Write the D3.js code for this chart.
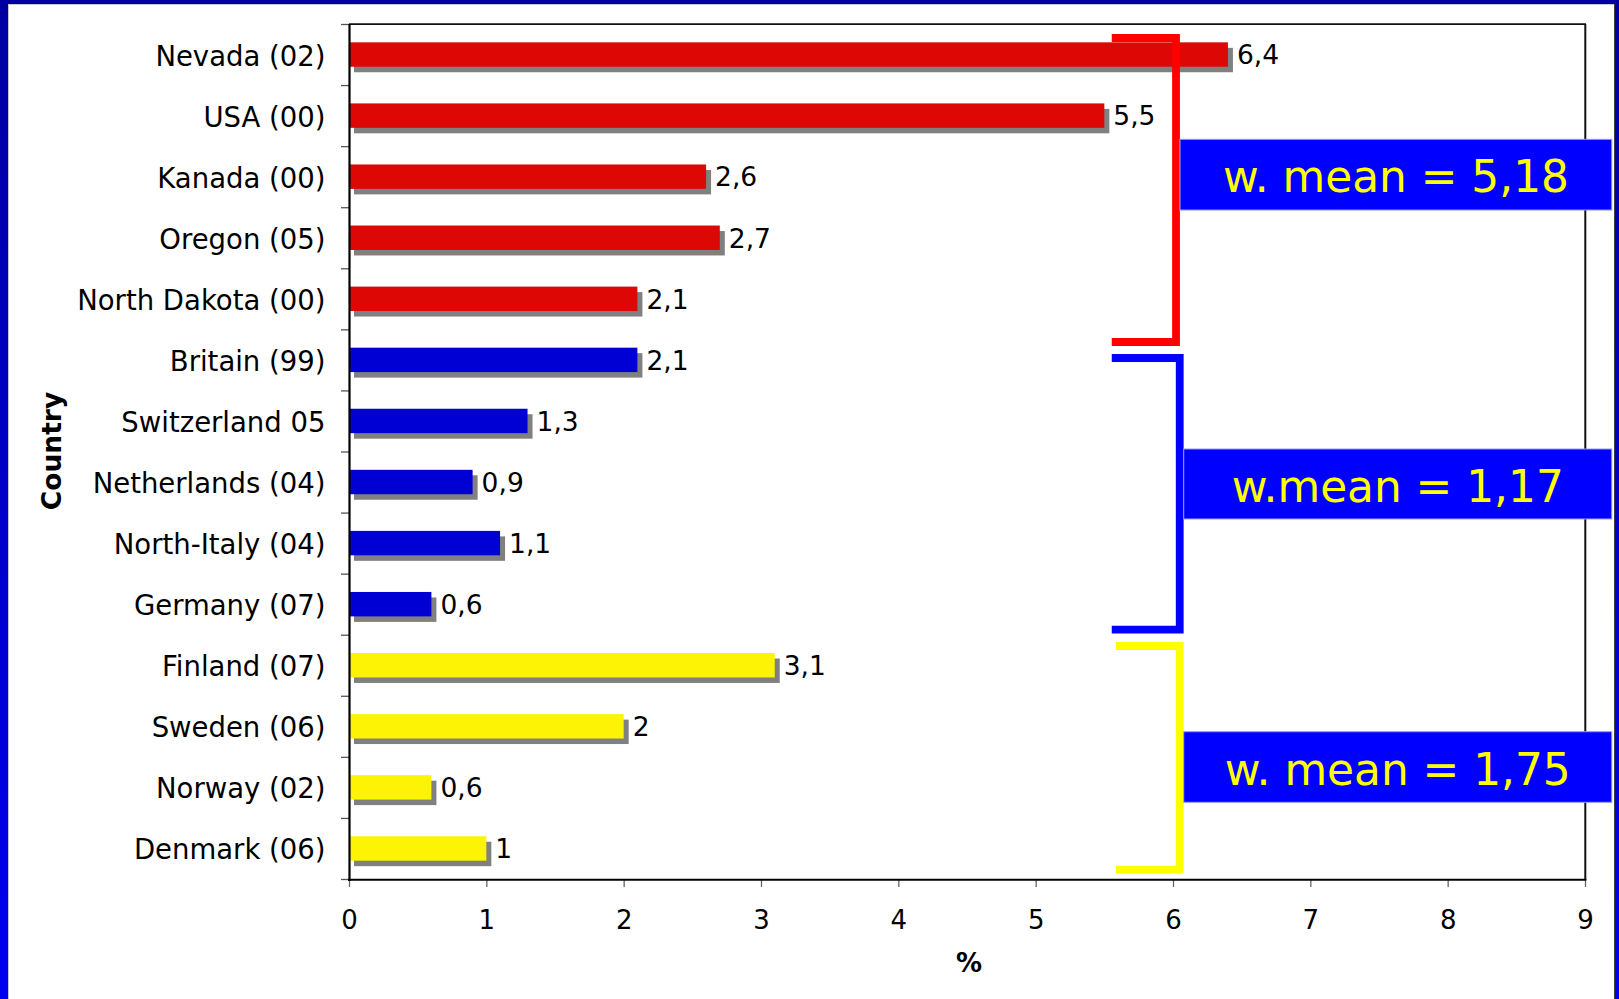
<!DOCTYPE html>
<html><head><meta charset="utf-8">
<script src="https://cdn.jsdelivr.net/npm/d3@7"></script>
<style>html,body{margin:0;padding:0;background:#fff;} svg{display:block;}</style>
</head><body>
<svg id="chart" width="1619" height="999"></svg>
<script>
// ---------- data ----------
const categories = ["Nevada (02)", "USA (00)", "Kanada (00)", "Oregon (05)", "North Dakota (00)",
  "Britain (99)", "Switzerland 05", "Netherlands (04)", "North-Italy (04)", "Germany (07)",
  "Finland (07)", "Sweden (06)", "Norway (02)", "Denmark (06)"];
const values = [6.4, 5.5, 2.6, 2.7, 2.1, 2.1, 1.3, 0.9, 1.1, 0.6, 3.1, 2, 0.6, 1];
const groupOf = [0, 0, 0, 0, 0, 1, 1, 1, 1, 1, 2, 2, 2, 2];
const meanLabels = ["w. mean = 5,18", "w.mean = 1,17", "w. mean = 1,75"];
const xTickValues = [0, 1, 2, 3, 4, 5, 6, 7, 8, 9];
const xTitle = "%";
const yTitle = "Country";

// ---------- styles / layout ----------
const barColors = ["#DD0806", "#0000D4", "#FCF305"];
const bracketColors = ["#FF0000", "#0000FF", "#FFFF00"];
const FONT = "'DejaVu Sans', Verdana, sans-serif";
// bracket geometry in data units (x: value, y: band index)
const bracketLayout = [
  {x0: 5.554, xv: 6.022, y0: 0.229, y1: 5.207},
  {x0: 5.554, xv: 6.049, y0: 5.469, y1: 9.918},
  {x0: 5.585, xv: 6.049, y0: 10.185, y1: 13.848}
];
const boxLayout = [
  {y0: 1.888, y1: 3.046},
  {y0: 6.959, y1: 8.105},
  {y0: 11.588, y1: 12.744}
];
const boxRightValue = 9.195;
const boxTextLen = [346, 332, 346];

const W = 1619, H = 999;
const svg = d3.select("#chart");

// ---------- frame ----------
const defs = svg.append("defs");
const g = defs.append("linearGradient").attr("id", "bg").attr("x1", 0).attr("y1", 0).attr("x2", 0).attr("y2", 1);
g.append("stop").attr("offset", "0%").attr("stop-color", "#0000A0");
g.append("stop").attr("offset", "100%").attr("stop-color", "#0000F0");
svg.append("rect").attr("x", 0).attr("y", 0).attr("width", W).attr("height", H).attr("fill", "url(#bg)");
svg.append("rect").attr("x", 8).attr("y", 4).attr("width", 1606).attr("height", H).attr("fill", "#fff");
svg.append("line").attr("x1", 8.5).attr("x2", 8.5).attr("y1", 4).attr("y2", H).attr("stroke", "#c8c8c8");
svg.append("line").attr("x1", 8).attr("x2", 1614).attr("y1", 4.5).attr("y2", 4.5).attr("stroke", "#c8c8c8");
svg.append("line").attr("x1", 1614.5).attr("x2", 1614.5).attr("y1", 4).attr("y2", H).attr("stroke", "#404040");

// ---------- scales ----------
const x = d3.scaleLinear().domain([0, 9]).range([349, 1585]);
const y = d3.scaleBand().domain(categories).range([24, 879]).paddingInner(0.6).paddingOuter(0.3);
const yi = d3.scaleLinear().domain([0, categories.length]).range([24, 879]);
const bw = y.bandwidth();

// plot border (top/right)
svg.append("line").attr("x1", x(0)).attr("x2", x(9) + 1).attr("y1", 24.2).attr("y2", 24.2)
  .attr("stroke", "#111").attr("stroke-width", 1.8);
svg.append("line").attr("x1", x(9) + 0.3).attr("x2", x(9) + 0.3).attr("y1", 24).attr("y2", 880)
  .attr("stroke", "#111").attr("stroke-width", 2);

// x axis
const xAxis = svg.append("g").attr("transform", "translate(0,879)")
  .call(d3.axisBottom(x).tickValues(xTickValues).tickSize(8).tickFormat(d => String(d)));
xAxis.select(".domain").remove();
xAxis.selectAll(".tick line").attr("stroke", "#666").attr("stroke-width", 1.3);
xAxis.selectAll(".tick text").attr("y", 50).attr("dy", null)
  .attr("font-family", FONT).attr("font-size", 26).attr("fill", "#000");

// y axis boundary ticks
const yTicks = svg.append("g").attr("transform", "translate(349,0)")
  .call(d3.axisLeft(yi).tickValues(d3.range(categories.length + 1)).tickSize(8).tickFormat(""));
yTicks.select(".domain").remove();
yTicks.selectAll(".tick line").attr("stroke", "#555").attr("stroke-width", 1.3);

// y labels
const yAxis = svg.append("g").attr("transform", "translate(349,0)")
  .call(d3.axisLeft(y).tickSize(0).tickPadding(23.5));
yAxis.select(".domain").remove();
yAxis.selectAll(".tick text").attr("dy", "0.4em")
  .attr("font-family", FONT).attr("font-size", 27.5).attr("fill", "#000");

// bars
const data = categories.map((c, i) => ({c, v: values[i], g: groupOf[i]}));
svg.append("g").selectAll("rect").data(data).join("rect")
  .attr("x", x(0) + 5).attr("y", d => y(d.c) + 5.5)
  .attr("width", d => x(d.v) - x(0)).attr("height", bw).attr("fill", "#808080");
svg.append("g").selectAll("rect").data(data).join("rect")
  .attr("x", x(0)).attr("y", d => y(d.c))
  .attr("width", d => x(d.v) - x(0)).attr("height", bw).attr("fill", d => barColors[d.g]);

// value labels
svg.append("g").selectAll("text").data(data).join("text")
  .attr("x", d => x(d.v) + 9).attr("y", d => y(d.c) + bw / 2).attr("dy", "0.37em")
  .attr("font-family", FONT).attr("font-size", 26.5).attr("fill", "#000")
  .text(d => String(d.v).replace(".", ","));

// axis lines
svg.append("line").attr("x1", 349.5).attr("x2", 349.5).attr("y1", 24).attr("y2", 881)
  .attr("stroke", "#000").attr("stroke-width", 2.2);
svg.append("line").attr("x1", 348).attr("x2", x(9) + 1.3).attr("y1", 879.7).attr("y2", 879.7)
  .attr("stroke", "#000").attr("stroke-width", 2);

// brackets
svg.append("g").selectAll("path").data(bracketLayout).join("path")
  .attr("d", b => `M${x(b.x0)},${yi(b.y0)}H${x(b.xv)}V${yi(b.y1)}H${x(b.x0)}`)
  .attr("fill", "none").attr("stroke", (b, i) => bracketColors[i])
  .attr("stroke-width", 7.8).attr("stroke-linejoin", "miter").attr("stroke-linecap", "butt");

// mean boxes
const boxes = svg.append("g").selectAll("g").data(boxLayout).join("g");
boxes.append("rect")
  .attr("x", (b, i) => x(bracketLayout[i].xv) + 4)
  .attr("y", b => yi(b.y0))
  .attr("width", (b, i) => x(boxRightValue) - x(bracketLayout[i].xv) - 4)
  .attr("height", b => yi(b.y1) - yi(b.y0))
  .attr("fill", "#0000FF").attr("stroke", "#9a9aff").attr("stroke-width", 1);
boxes.append("text")
  .attr("x", (b, i) => (x(bracketLayout[i].xv) + 4 + x(boxRightValue)) / 2)
  .attr("y", b => (yi(b.y0) + yi(b.y1)) / 2).attr("dy", "0.39em")
  .attr("text-anchor", "middle").attr("font-family", FONT).attr("font-size", 45)
  .attr("fill", "#FFFF00")
  .attr("textLength", (b, i) => boxTextLen[i]).attr("lengthAdjust", "spacingAndGlyphs")
  .text((b, i) => meanLabels[i]);

// titles
svg.append("text").attr("x", 969).attr("y", 972).attr("text-anchor", "middle")
  .attr("font-family", FONT).attr("font-weight", "bold").attr("font-size", 26).attr("fill", "#000")
  .text(xTitle);
svg.append("text").attr("transform", "translate(61,451) rotate(-90)").attr("text-anchor", "middle")
  .attr("font-family", FONT).attr("font-weight", "bold").attr("font-size", 26.5).attr("fill", "#000")
  .text(yTitle);
</script>
</body></html>
